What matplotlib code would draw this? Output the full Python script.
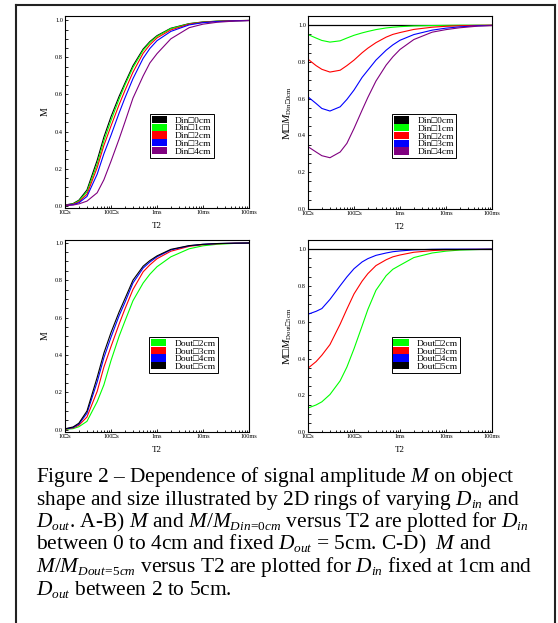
"""
Signal amplitude M versus T2 for 2D rings of varying Din and Dout (Figure 2).
"""

import matplotlib

matplotlib.use("Agg")
import matplotlib._mathtext as mathtext_internals
import matplotlib.pyplot as plt
from matplotlib.lines import Line2D
from matplotlib.patches import Patch
from matplotlib.ticker import FixedLocator, FormatStrFormatter, LogLocator, MultipleLocator, NullFormatter

plt.rcParams["font.family"] = ["Liberation Serif", "DejaVu Serif"]
plt.rcParams["mathtext.fontset"] = "custom"
plt.rcParams["mathtext.rm"] = "Liberation Serif"
plt.rcParams["mathtext.it"] = "Liberation Serif:italic"
# the caption subscripts are set a bit smaller than mathtext's default
mathtext_internals.SHRINK_FACTOR = 0.62

# T2 sample points (microseconds)
T2_US = [10, 15, 20, 30, 50, 70, 100, 150, 200, 300, 500, 700,
         1000, 2000, 5000, 10000, 20000, 50000, 100000]

# A) M vs T2, Dout = 5cm, Din = 0..4cm
A_DIN0 = [0.004, 0.012, 0.03, 0.085, 0.245, 0.37, 0.48, 0.59, 0.66, 0.755, 0.845, 0.885,
          0.917, 0.957, 0.982, 0.991, 0.995, 0.998, 0.999]
A_DIN1 = [0.003, 0.01, 0.026, 0.075, 0.225, 0.35, 0.46, 0.575, 0.65, 0.745, 0.838, 0.88,
          0.913, 0.955, 0.981, 0.99, 0.995, 0.998, 0.999]
A_DIN2 = [0.003, 0.008, 0.021, 0.062, 0.205, 0.325, 0.43, 0.545, 0.62, 0.72, 0.822, 0.868,
          0.905, 0.948, 0.979, 0.989, 0.994, 0.998, 0.999]
A_DIN3 = [0.002, 0.006, 0.016, 0.05, 0.17, 0.28, 0.38, 0.5, 0.58, 0.685, 0.795, 0.848,
          0.89, 0.94, 0.975, 0.987, 0.993, 0.997, 0.999]
A_DIN4 = [0.001, 0.004, 0.01, 0.025, 0.07, 0.14, 0.24, 0.36, 0.45, 0.58, 0.70, 0.77,
          0.82, 0.90, 0.96, 0.979, 0.989, 0.996, 0.998]

# B) M / M(Din=0cm)
B_DIN0 = [1.0] * 19
B_DIN1 = [0.949, 0.93, 0.917, 0.908, 0.915, 0.93, 0.945, 0.958, 0.966, 0.976, 0.985, 0.989,
          0.992, 0.996, 0.998, 0.999, 1.0, 1.0, 1.0]
B_DIN2 = [0.815, 0.78, 0.76, 0.745, 0.755, 0.78, 0.81, 0.85, 0.875, 0.905, 0.935, 0.95,
          0.96, 0.977, 0.989, 0.994, 0.997, 0.999, 1.0]
B_DIN3 = [0.61, 0.574, 0.547, 0.533, 0.556, 0.596, 0.647, 0.716, 0.755, 0.81, 0.864, 0.893,
          0.918, 0.949, 0.973, 0.984, 0.991, 0.997, 0.999]
B_DIN4 = [0.339, 0.31, 0.29, 0.279, 0.31, 0.357, 0.438, 0.538, 0.607, 0.696, 0.783, 0.828,
          0.868, 0.922, 0.962, 0.976, 0.986, 0.995, 0.998]

# C) M vs T2, Din = 1cm, Dout = 2..5cm
C_DOUT2 = [0.002, 0.006, 0.016, 0.045, 0.15, 0.24, 0.37, 0.5, 0.58, 0.69, 0.785, 0.832,
           0.872, 0.925, 0.968, 0.984, 0.992, 0.997, 0.998]
C_DOUT3 = [0.003, 0.01, 0.024, 0.068, 0.205, 0.335, 0.445, 0.565, 0.645, 0.75, 0.845, 0.882,
           0.915, 0.955, 0.981, 0.99, 0.995, 0.998, 0.999]
C_DOUT4 = [0.004, 0.012, 0.03, 0.088, 0.255, 0.385, 0.495, 0.61, 0.68, 0.785, 0.865, 0.897,
           0.925, 0.962, 0.984, 0.992, 0.996, 0.998, 0.999]
C_DOUT5 = [0.005, 0.015, 0.035, 0.1, 0.28, 0.41, 0.52, 0.63, 0.7, 0.8, 0.875, 0.905,
           0.93, 0.965, 0.985, 0.992, 0.996, 0.998, 0.999]

# D) M / M(Dout=5cm)
D_DOUT2 = [0.131, 0.148, 0.165, 0.205, 0.28, 0.355, 0.455, 0.58, 0.67, 0.775, 0.855, 0.89,
           0.912, 0.954, 0.979, 0.989, 0.995, 0.998, 1.0]
D_DOUT3 = [0.349, 0.385, 0.42, 0.478, 0.59, 0.672, 0.755, 0.825, 0.866, 0.91, 0.942, 0.958,
           0.968, 0.983, 0.992, 0.996, 0.998, 0.999, 1.0]
D_DOUT4 = [0.644, 0.66, 0.675, 0.725, 0.80, 0.848, 0.893, 0.93, 0.948, 0.966, 0.979, 0.986,
           0.99, 0.996, 0.999, 1.0, 1.0, 1.0, 1.0]
D_DOUT5 = [1.0] * 19

DIN_LABELS = ["Din\u25a10cm", "Din\u25a11cm", "Din\u25a12cm", "Din\u25a13cm", "Din\u25a14cm"]
DIN_COLORS = ["#000000", "#00ff00", "#ff0000", "#0000ff", "#800080"]
DOUT_LABELS = ["Dout\u25a12cm", "Dout\u25a13cm", "Dout\u25a14cm", "Dout\u25a15cm"]
DOUT_COLORS = ["#00ff00", "#ff0000", "#0000ff", "#000000"]

X_TICKS = [1e-5, 1e-4, 1e-3, 1e-2, 1e-1]
X_TICK_LABELS = ["10\u25a1s", "100\u25a1s", "1ms", "10ms", "100ms"]

CAPTION = [
    "Figure 2 \u2013 Dependence of signal amplitude $M$ on object",
    "shape and size illustrated by 2D rings of varying $D_{in}$ and",
    "$D_{out}$. A-B) $M$ and $M/M_{Din\\!=\\!0cm}$ versus T2 are plotted for $D_{in}$",
    "between 0 to 4cm and fixed $D_{out}$ = 5cm. C-D)  $M$ and",
    "$M/M_{Dout\\!=\\!5cm}$ versus T2 are plotted for $D_{in}$ fixed at 1cm and",
    "$D_{out}$ between 2 to 5cm.",
]

W, H = 558, 623


def style_axis(ax, ylim):
    ax.set_xscale("log")
    ax.set_xlim(1e-5, 1e-1)
    ax.set_ylim(*ylim)
    ax.xaxis.set_major_locator(FixedLocator(X_TICKS))
    ax.set_xticklabels(X_TICK_LABELS)
    ax.xaxis.set_minor_locator(LogLocator(base=10, subs=range(2, 10), numticks=20))
    ax.xaxis.set_minor_formatter(NullFormatter())
    ax.yaxis.set_major_locator(MultipleLocator(0.2))
    ax.yaxis.set_minor_locator(MultipleLocator(0.05))
    ax.yaxis.set_major_formatter(FormatStrFormatter("%.1f"))
    ax.tick_params(which="both", direction="in", top=False, right=False,
                   labelsize=4.6, pad=1.5, width=0.6)
    ax.tick_params(which="major", length=2.5)
    ax.tick_params(which="minor", length=1.8)
    for s in ax.spines.values():
        s.set_linewidth(0.8)
    ax.set_xlabel("T2", fontsize=6.5, labelpad=5)


def add_legend(ax, labels, colors, x0, y1):
    handles = [Patch(facecolor=c, edgecolor="none") for c in colors]
    leg = ax.legend(handles, labels, loc="upper left", bbox_to_anchor=(x0, y1),
                    fontsize=6.8, frameon=True, fancybox=False, framealpha=1,
                    edgecolor="black", borderpad=0.2, labelspacing=-0.12,
                    handlelength=1.6, handleheight=0.8, handletextpad=0.9,
                    borderaxespad=0)
    leg.get_frame().set_linewidth(0.7)


def main():
    fig = plt.figure(figsize=(W / 100, H / 100), dpi=100)
    t2 = [t * 1e-6 for t in T2_US]

    def box(l, t, r, b):
        return [l / W, 1 - b / H, (r - l) / W, (b - t) / H]

    ax_a = fig.add_axes(box(65, 16, 249, 208))
    ax_b = fig.add_axes(box(308, 16, 492, 209))
    ax_c = fig.add_axes(box(65, 240, 249, 432))
    ax_d = fig.add_axes(box(308, 240, 492, 432))

    for y, c in zip([A_DIN0, A_DIN1, A_DIN2, A_DIN3, A_DIN4], DIN_COLORS):
        ax_a.plot(t2, y, color=c, lw=0.8)
    style_axis(ax_a, (-0.012, 1.023))
    ax_a.set_ylabel("M", fontsize=7, labelpad=4)
    add_legend(ax_a, DIN_LABELS, DIN_COLORS, 0.46, 0.49)

    for y, c in zip([B_DIN0, B_DIN1, B_DIN2, B_DIN3, B_DIN4], DIN_COLORS):
        ax_b.plot(t2, y, color=c, lw=0.9 if c == "#000000" else 0.8)
    style_axis(ax_b, (0, 1.05))
    ax_b.set_ylabel("M\u25a1$M_{\\mathrm{Din\u25a10cm}}$", fontsize=8, labelpad=3)
    add_legend(ax_b, DIN_LABELS, DIN_COLORS, 0.457, 0.49)

    for y, c in zip([C_DOUT2, C_DOUT3, C_DOUT4, C_DOUT5], DOUT_COLORS):
        ax_c.plot(t2, y, color=c, lw=0.8)
    style_axis(ax_c, (-0.012, 1.015))
    ax_c.set_ylabel("M", fontsize=7, labelpad=4)
    add_legend(ax_c, DOUT_LABELS, DOUT_COLORS, 0.457, 0.495)

    for y, c in zip([D_DOUT2, D_DOUT3, D_DOUT4, D_DOUT5], DOUT_COLORS):
        ax_d.plot(t2, y, color=c, lw=0.9 if c == "#000000" else 0.8)
    style_axis(ax_d, (0, 1.05))
    ax_d.set_ylabel("M\u25a1$M_{\\mathrm{Dout\u25a15cm}}$", fontsize=8, labelpad=3)
    add_legend(ax_d, DOUT_LABELS, DOUT_COLORS, 0.454, 0.495)

    # caption
    base = 482.3
    for i, line in enumerate(CAPTION):
        fig.text(36 / W, 1 - (base + 22.5 * i) / H, line, fontsize=15.4,
                 ha="left", va="baseline")

    # frame around the figure
    frame_kw = dict(color="#222222", lw=1.5, transform=fig.transFigure)
    fig.add_artist(Line2D([16 / W, 16 / W], [0, 1 - 5 / H], **frame_kw))
    fig.add_artist(Line2D([16 / W, 555 / W], [1 - 5 / H, 1 - 5 / H], **frame_kw))
    fig.add_artist(Line2D([555 / W, 555 / W], [0, 1 - 5 / H], **frame_kw))

    fig.savefig("out.png", dpi=100)


if __name__ == "__main__":
    main()
